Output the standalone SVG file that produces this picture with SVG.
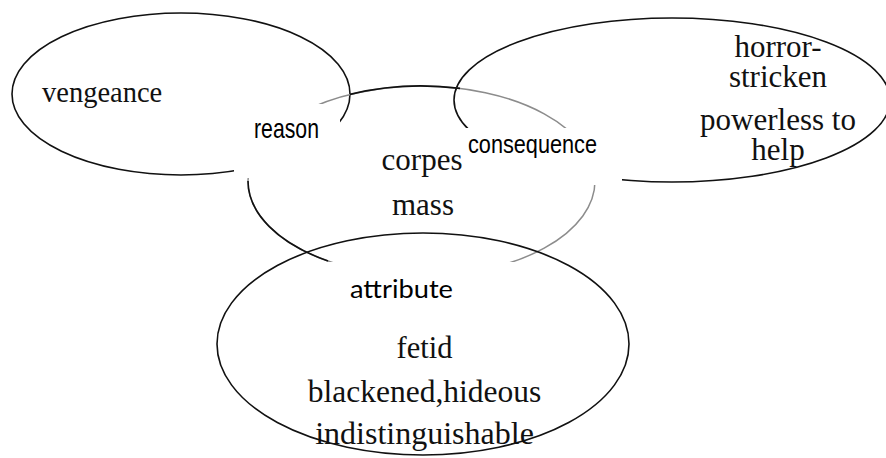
<svg xmlns="http://www.w3.org/2000/svg" width="886" height="458" viewBox="0 0 886 458">
<style>
  .shape { fill: none; stroke: #111; stroke-width: 1.6; }
  .soft { fill: none; stroke: #8c8c8c; stroke-width: 1.5; }
  .serif { font-family: "Liberation Serif", "Times New Roman", serif; fill: #111; }
  .sans { font-family: "Liberation Sans", Arial, sans-serif; fill: #000; }
  .cal { font-family: Lato, "Open Sans", sans-serif; fill: #000; }
  .mask { fill: #fff; stroke: none; }
</style>
<rect width="886" height="458" fill="#fff"/>
<g id="node-vengeance">
  <ellipse class="shape" cx="181" cy="94" rx="169" ry="81"/>
  <text class="serif" x="42" y="102" font-size="28.5">vengeance</text>
</g>
<g id="node-horror">
  <ellipse class="shape" cx="672" cy="100" rx="218" ry="82"/>
  <text class="serif" x="778" y="57" font-size="31" text-anchor="middle">horror-</text>
  <text class="serif" x="778" y="87" font-size="31" text-anchor="middle">stricken</text>
  <text class="serif" x="778" y="130" font-size="31" text-anchor="middle">powerless to</text>
  <text class="serif" x="778" y="160" font-size="31" text-anchor="middle">help</text>
</g>
<g id="node-corpes">
  <ellipse class="soft" cx="421.5" cy="181" rx="173.5" ry="95"/>
  <path class="shape" d="M350,94.4 A173.5,95 0 0,1 460,88.4"/>
  <path class="shape" d="M248,181 A173.5,95 0 0,0 328,261"/>
  <text class="serif" x="422" y="170" font-size="31" text-anchor="middle">corpes</text>
  <text class="serif" x="423" y="215" font-size="31" text-anchor="middle">mass</text>
</g>
<g id="node-attribute">
  <ellipse class="shape" cx="423" cy="344" rx="206" ry="111"/>
  <text class="serif" x="424.5" y="358" font-size="30.5" text-anchor="middle">fetid</text>
  <text class="serif" x="424.5" y="402" font-size="31.5" text-anchor="middle">blackened,hideous</text>
  <text class="serif" x="424.5" y="444" font-size="32" text-anchor="middle">indistinguishable</text>
</g>
<g id="connectors">
  <rect class="mask" x="234" y="104" width="106" height="74"/>
  <rect class="mask" x="465" y="128" width="157" height="57"/>
  <rect class="mask" x="300" y="262" width="240" height="48"/>
  <text class="sans" x="254" y="138" font-size="28" textLength="65" lengthAdjust="spacingAndGlyphs">reason</text>
  <text class="sans" x="468" y="153" font-size="25" textLength="129" lengthAdjust="spacingAndGlyphs">consequence</text>
  <text class="cal" x="350" y="298" font-size="25" textLength="103" lengthAdjust="spacingAndGlyphs">attribute</text>
</g>
</svg>
